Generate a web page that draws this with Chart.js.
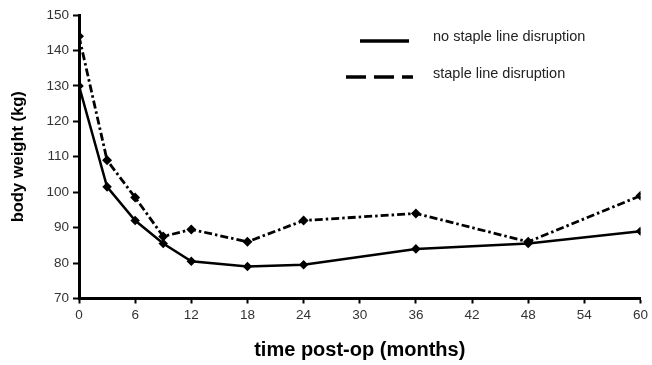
<!DOCTYPE html>
<html>
<head>
<meta charset="utf-8">
<script src="https://cdn.jsdelivr.net/npm/chart.js@4/dist/chart.umd.min.js"></script>
<style>
  html, body { margin: 0; padding: 0; background: #fff; }
  #wrap { width: 652px; height: 365px; }
</style>
</head>
<body>
<div id="wrap"><canvas id="weightChart" width="652" height="365"></canvas></div>
<script>
// months after surgery and mean body weight (kg) per group
const months = [0, 3, 6, 9, 12, 18, 24, 36, 48, 60];
const noDisruption = [130, 101.5, 92, 85.5, 80.5, 79, 79.5, 84, 85.5, 89];
const disruption = [144, 109, 98.5, 87.5, 89.5, 86, 92, 94, 86, 99];
const seriesNames = ['no staple line disruption', 'staple line disruption'];

const yTicks = [70, 80, 90, 100, 110, 120, 130, 140, 150];
const xTicks = [0, 6, 12, 18, 24, 30, 36, 42, 48, 54, 60];

const toPoints = (xs, ys) => xs.map((x, i) => ({ x: x, y: ys[i] }));

// legend drawn by hand: line sample on the left, label on the right
const lineLegend = {
    id: 'lineLegend',
    afterDraw(chart) {
        const ctx = chart.ctx;
        const rows = [
            { x0: 360, x1: 409, y: 41, ty: 37, dash: [] },
            { x0: 346, x1: 413, y: 77, ty: 74, dash: [20, 8] }
        ];
        ctx.save();
        rows.forEach((r, i) => {
            ctx.beginPath();
            ctx.setLineDash(r.dash);
            ctx.lineWidth = 3.5;
            ctx.strokeStyle = '#000';
            ctx.moveTo(r.x0, r.y);
            ctx.lineTo(r.x1, r.y);
            ctx.stroke();
            ctx.setLineDash([]);
            ctx.fillStyle = '#222';
            ctx.font = '14.5px "Liberation Sans", Arial, sans-serif';
            ctx.textBaseline = 'middle';
            ctx.textAlign = 'left';
            ctx.fillText(chart.data.datasets[i].label, 433, r.ty);
        });
        ctx.restore();
    }
};

new Chart(document.getElementById('weightChart'), {
    type: 'line',
    data: {
        datasets: [
            {
                label: seriesNames[0],
                data: toPoints(months, noDisruption),
                borderColor: '#000',
                backgroundColor: '#000',
                borderWidth: 2.5,
                pointStyle: 'rectRot',
                pointRadius: 3,
                tension: 0
            },
            {
                label: seriesNames[1],
                data: toPoints(months, disruption),
                borderColor: '#000',
                backgroundColor: '#000',
                borderWidth: 2.8,
                borderDash: [8, 3, 2.5, 3],
                pointStyle: 'rectRot',
                pointRadius: 3,
                tension: 0
            }
        ]
    },
    options: {
        responsive: false,
        animation: false,
        layout: { padding: { top: 15, right: 10, left: 0, bottom: 0 } },
        plugins: { legend: { display: false }, tooltip: { enabled: false } },
        scales: {
            x: {
                type: 'linear',
                min: 0,
                max: 60,
                afterBuildTicks: axis => { axis.ticks = xTicks.map(v => ({ value: v })); },
                afterFit: axis => { axis.height = 66.5; },
                border: { color: '#000', width: 3 },
                grid: { drawOnChartArea: false, drawTicks: true, tickLength: 5, tickWidth: 2, tickColor: '#000' },
                ticks: { color: '#333', padding: 4, font: { family: '"Liberation Sans", Arial, sans-serif', size: 13.5 } },
                title: {
                    display: true,
                    text: 'time post-op (months)',
                    color: '#000',
                    padding: { top: 0, bottom: 3 },
                    font: { family: '"Liberation Sans", Arial, sans-serif', size: 20, weight: 'bold' }
                }
            },
            y: {
                min: 70,
                max: 150,
                afterBuildTicks: axis => { axis.ticks = yTicks.map(v => ({ value: v })); },
                afterFit: axis => { axis.width = 79; },
                border: { color: '#000', width: 3 },
                grid: { drawOnChartArea: false, drawTicks: true, tickLength: 6, tickWidth: 2, tickColor: '#000' },
                ticks: { color: '#333', padding: 4, font: { family: '"Liberation Sans", Arial, sans-serif', size: 13.5 } },
                title: {
                    display: true,
                    text: 'body weight (kg)',
                    color: '#000',
                    padding: { top: 9, bottom: 0 },
                    font: { family: '"Liberation Sans", Arial, sans-serif', size: 16.5, weight: 'bold' }
                }
            }
        }
    },
    plugins: [lineLegend]
});
</script>
</body>
</html>
